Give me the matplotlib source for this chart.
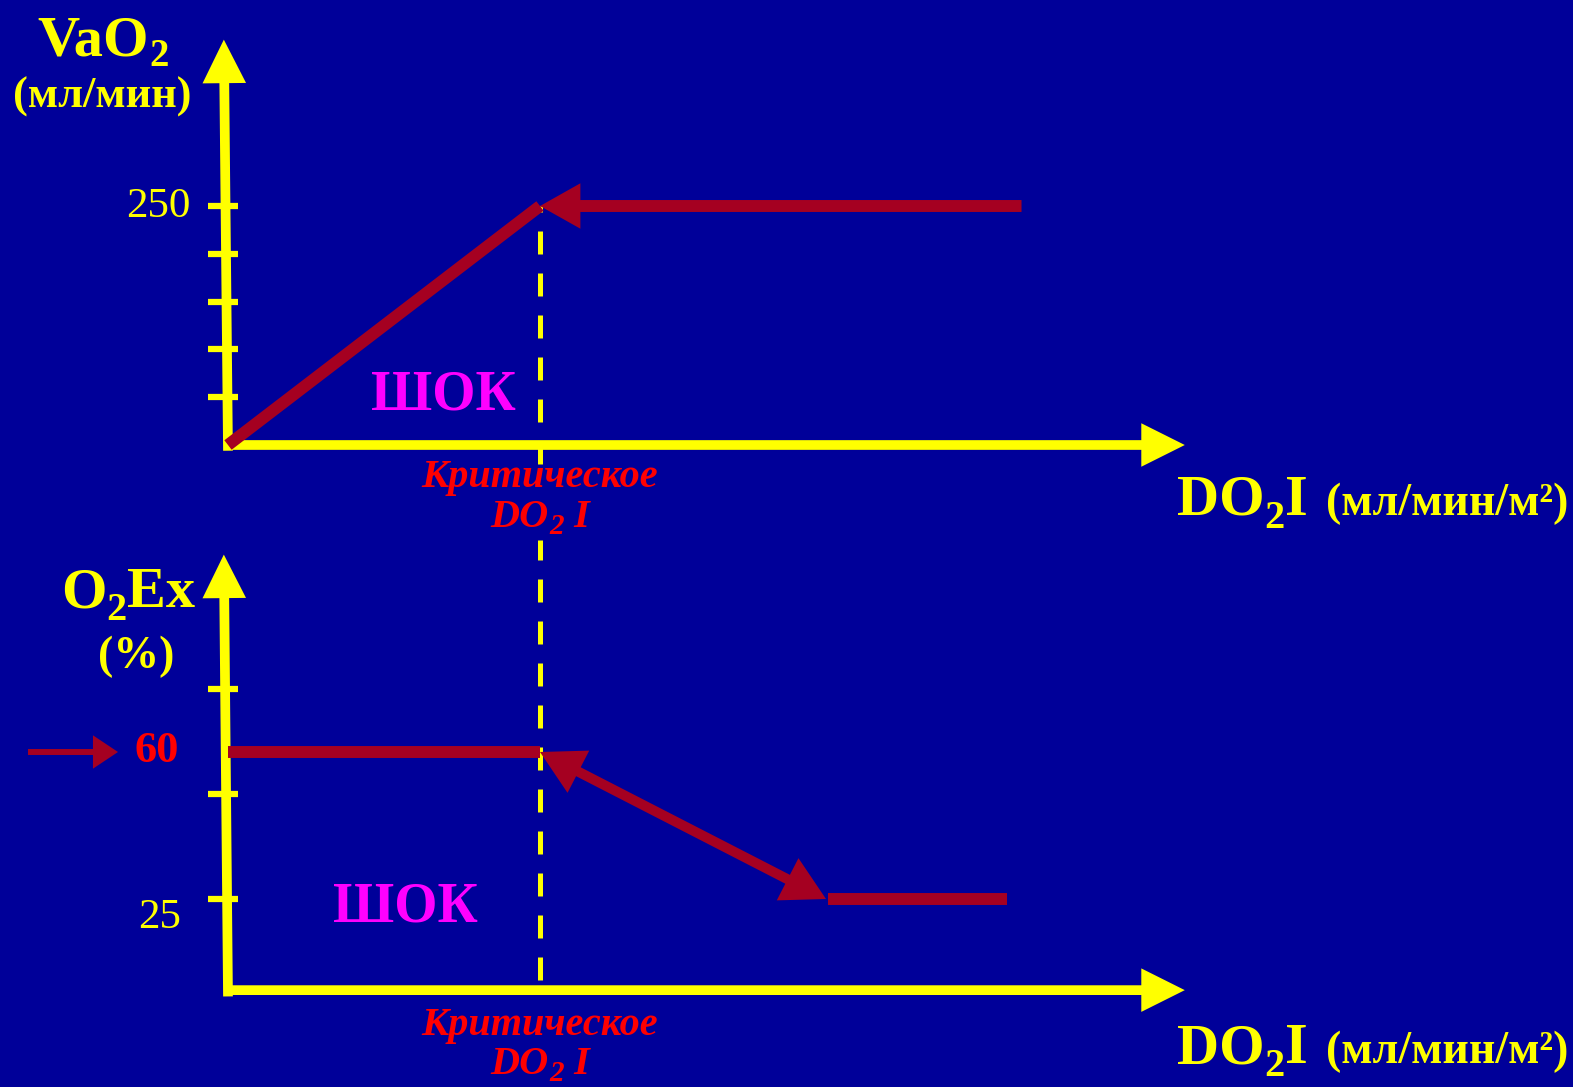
import matplotlib.pyplot as plt

# DATOS (unidades arbitrarias de DO2I en el eje x)

crit_x = 30            # DO2I critico
axis_x_end = 92        # punta de la flecha del eje x

# Panel superior: VaO2 (мл/мин)
vao2_shock_x = [0, 30]
vao2_shock_y = [0, 250]
vao2_flat_x = [76.3, 30]
vao2_flat_y = [250, 250]
vao2_ticks = [50, 100, 150, 200, 250]
vao2_axis_top = 424

# Panel inferior: O2Ex (%)
ex_flat_x = [0, 30]
ex_flat_y = [60, 60]
ex_fall_x = [30, 57.5]
ex_fall_y = [60, 25]
ex_low_x = [57.7, 74.9]
ex_low_y = [25, 25]
ex_ticks = [25, 50, 75]
ex_base = 3.3
ex_axis_top = 107

W, H = 1573, 1087
BG = '#000099'
YEL = '#FFFF00'
DRED = '#A50021'
RED = '#FF0000'
MAG = '#FF00FF'

plt.rcParams['font.family'] = 'Liberation Serif'

fig = plt.figure(figsize=(W / 100, H / 100), dpi=100, facecolor=BG)
renderer = fig.canvas.get_renderer()


def px(x, y):
    return x / W, 1 - y / H


# escalas: 10.4 px por unidad de DO2I
xlim = (-228 / 10.4, (W - 228) / 10.4)

ax_top = fig.add_axes([0, 0, 1, 1])
ax_top.set_xlim(xlim)
ax_top.set_ylim(-(H - 445) / 0.956, 445 / 0.956)
ax_top.axis('off')
ax_top.patch.set_alpha(0)

ax_bot = fig.add_axes([0, 0, 1, 1])
ax_bot.set_xlim(xlim)
ax_bot.set_ylim(-(H - 1004) / 4.2, 1004 / 4.2)
ax_bot.axis('off')
ax_bot.patch.set_alpha(0)


def arrow(ax, tail, tip, color, lw, hl, hw, style='-|>', **kw):
    ax.annotate('', xy=tip, xytext=tail,
                arrowprops=dict(arrowstyle=f'{style},head_length={hl},head_width={hw}',
                                mutation_scale=20, lw=lw, color=color,
                                shrinkA=0, shrinkB=0, joinstyle='miter',
                                capstyle='butt'), **kw)


# ejes amarillos
arrow(ax_top, (0, -6), (-0.4, vao2_axis_top), YEL, 7, 1.0, 0.5)
arrow(ax_top, (-0.4, 0), (axis_x_end, 0), YEL, 7, 1.0, 0.5)
arrow(ax_bot, (0, ex_base - 1.5), (-0.4, ex_axis_top), YEL, 7, 1.0, 0.5)
arrow(ax_bot, (-0.4, ex_base), (axis_x_end, ex_base), YEL, 7, 1.0, 0.5)

# marcas de los ejes
ax_top.hlines(vao2_ticks, -1.9, 1.0, color=YEL, lw=4.5)
ax_bot.hlines(ex_ticks, -1.9, 1.0, color=YEL, lw=4.5)

# linea discontinua del DO2I critico (interrumpida por el texto)
for y_a, y_b in [(206, 464), (540, 980)]:
    ax_top.plot([crit_x, crit_x], [1 - y_b / H, 1 - y_a / H],
                transform=ax_top.get_xaxis_transform(), color=YEL, lw=3.6,
                dashes=(4.6, 3.8), zorder=1)

# panel superior
ax_top.plot(vao2_shock_x, vao2_shock_y, color=DRED, lw=8.6,
            solid_capstyle='butt', zorder=3)
arrow(ax_top, (vao2_flat_x[0], vao2_flat_y[0]), (vao2_flat_x[1], vao2_flat_y[1]),
      DRED, 8.6, 0.8, 0.45)

# panel inferior
ax_bot.plot(ex_flat_x, ex_flat_y, color=DRED, lw=8.6,
            solid_capstyle='butt', zorder=3)
arrow(ax_bot, (ex_fall_x[0], ex_fall_y[0]), (ex_fall_x[1], ex_fall_y[1]),
      DRED, 7.2, 1.0, 0.55, style='<|-|>')
ax_bot.plot(ex_low_x, ex_low_y, color=DRED, lw=8.6,
            solid_capstyle='butt', zorder=3)

# pequena flecha hacia el 60
arrow(ax_bot, (28 / W, 60), (118 / W, 60), DRED, 4.3, 0.6, 0.4,
      xycoords=ax_bot.get_yaxis_transform())


# TEXTOS
def chain(x, y, parts, color, ha='left', **kw):
    # parts: (texto, tamano, desplazamiento vertical en px)
    texts = []
    for s, fs, dy in parts:
        t = fig.text(0, 0, s, color=color, fontsize=fs, fontweight='bold',
                     va='baseline', **kw)
        texts.append((t, dy))
    widths = [t.get_window_extent(renderer).width for t, _ in texts]
    x0 = x - sum(widths) / 2 if ha == 'center' else x
    for (t, dy), w in zip(texts, widths):
        t.set_position(px(x0, y + dy))
        x0 += w


bold = dict(fontweight='bold')

chain(103, 55, [('VaO', 42, 0), ('2', 28, 11)], YEL, ha='center')
fig.text(*px(102, 108), '(мл/мин)', color=YEL, fontsize=32, ha='center', va='baseline', **bold)
fig.text(*px(190, 217), '250', color=YEL, fontsize=31, ha='right', va='baseline')

chain(128, 607, [('O', 42, 0), ('2', 29, 13), ('Ex', 42, 0)], YEL, ha='center')
fig.text(*px(136, 668), '(%)', color=YEL, fontsize=33, ha='center', va='baseline', **bold)
fig.text(*px(157, 762), '60', color=RED, fontsize=32, ha='center', va='baseline', **bold)
fig.text(*px(160, 928), '25', color=YEL, fontsize=31, ha='center', va='baseline')

fig.text(*px(443, 410), 'ШОК', color=MAG, fontsize=40, ha='center', va='baseline', **bold)
fig.text(*px(405, 921), 'ШОК', color=MAG, fontsize=40, ha='center', va='baseline', **bold)

for y1, y2 in [(487, 527), (1035, 1074)]:
    fig.text(*px(540, y1), 'Критическое', color=RED, fontsize=29, ha='center',
             va='baseline', style='italic', zorder=5, **bold)
    chain(540, y2, [('DO', 29, 0), ('2', 21, 7), (' I', 29, 0)], RED,
          ha='center', style='italic', zorder=6)

for yb in [515, 1063]:
    chain(1177, yb, [('DO', 42, 0), ('2', 29, 13), ('I', 42, 0)], YEL)
    fig.text(*px(1326, yb), '(мл/мин/м²)', color=YEL, fontsize=33, ha='left', va='baseline', **bold)

fig.savefig('out.png', dpi=100, facecolor=BG)
